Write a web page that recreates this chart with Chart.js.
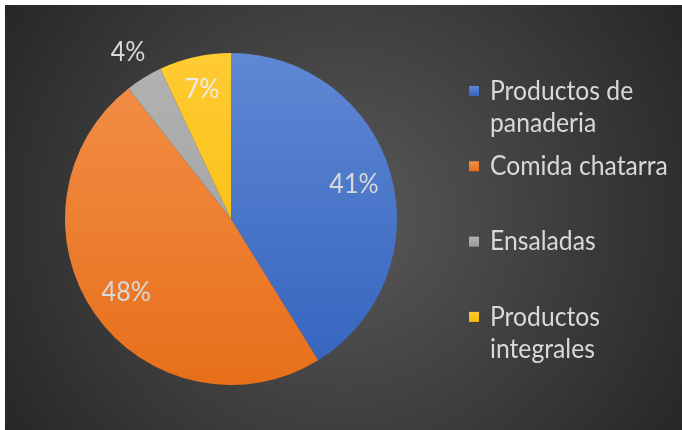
<!DOCTYPE html>
<html>
<head>
<meta charset="utf-8">
<script src="https://cdn.jsdelivr.net/npm/chart.js@4/dist/chart.umd.min.js"></script>
<style>
	html, body { margin: 0; padding: 0; background: #ffffff; }
	#wrap { position: absolute; left: 5px; top: 5px; width: 677px; height: 425px; }
</style>
</head>
<body>
<div id="wrap"><canvas id="pie-chart"></canvas></div>
<script>
// Data.
var categories = ["Productos de panaderia", "Comida chatarra", "Ensaladas", "Productos integrales"];
var shares = [41.2, 48.2, 3.6, 7.0];
var sliceColors = [
	["#5F88D4", "#3463BE"],
	["#F3904A", "#E76F1A"],
	["#B2B2B2", "#9C9C9C"],
	["#FFCB33", "#F8BA00"]
];

var FONT = "Lato, 'Open Sans', sans-serif";
var TEXT = "#d9d9d9";

// Background: dark radial gradient.
var bgPlugin = {
	id: 'bg',
	beforeDraw: function (chart) {
		var ctx = chart.ctx, w = chart.width, h = chart.height;
		var g = ctx.createRadialGradient(w * 0.5, h * 0.5, 0, w * 0.5, h * 0.5, w * 0.6);
		g.addColorStop(0, "#595959");
		g.addColorStop(1, "#262626");
		ctx.save();
		ctx.fillStyle = g;
		ctx.fillRect(0, 0, w, h);
		ctx.restore();
	}
};

// Narrow text, a bit like Calibri.
function narrowText(ctx, txt, x, y, sx) {
	ctx.save();
	ctx.translate(x, y);
	ctx.scale(sx, 1);
	ctx.fillText(txt, 0, 0);
	ctx.restore();
}

// Percent labels on the slices.
var labelPlugin = {
	id: 'pctLabels',
	afterDatasetsDraw: function (chart) {
		var ctx = chart.ctx;
		var data = chart.data.datasets[0].data;
		var total = data.reduce(function (a, b) { return a + b; }, 0);
		ctx.save();
		ctx.font = "27px " + FONT;
		ctx.textAlign = "center";
		ctx.textBaseline = "middle";
		chart.getDatasetMeta(0).data.forEach(function (arc, i) {
			var p = data[i] / total;
			var mid = (arc.startAngle + arc.endAngle) / 2;
			var dist = p < 0.05 ? arc.outerRadius + 30 : arc.outerRadius * (p < 0.1 ? 0.8 : 0.77);
			var x = arc.x + Math.cos(mid) * dist;
			var y = arc.y + Math.sin(mid) * dist;
			ctx.fillStyle = p < 0.1 && p >= 0.05 ? "#ececec" : TEXT;
			narrowText(ctx, Math.round(p * 100) + "%", x, y, 0.93);
		});
		ctx.restore();
	}
};

// Legend on the right with wrapped labels.
var legendPlugin = {
	id: 'sideLegend',
	afterDraw: function (chart) {
		var ctx = chart.ctx;
		var sx = 0.915;
		var boxX = 464, textX = 485, maxW = 190, lineH = 32, top = 86, step = 75.3;
		ctx.save();
		ctx.font = "27px " + FONT;
		ctx.textBaseline = "middle";
		chart.data.labels.forEach(function (label, i) {
			var y = top + i * step;
			var bg = ctx.createLinearGradient(0, y - 5, 0, y + 5);
			bg.addColorStop(0, sliceColors[i][0]);
			bg.addColorStop(1, sliceColors[i][1]);
			ctx.fillStyle = bg;
			ctx.fillRect(boxX, y - 5, 10, 10);
			// wrap words
			var words = label.split(" "), lines = [], cur = "";
			words.forEach(function (w) {
				var t = cur ? cur + " " + w : w;
				if (ctx.measureText(t).width * sx > maxW && cur) { lines.push(cur); cur = w; } else { cur = t; }
			});
			lines.push(cur);
			ctx.fillStyle = TEXT;
			lines.forEach(function (ln, k) {
				narrowText(ctx, ln, textX, y + k * lineH, sx);
			});
		});
		ctx.restore();
	}
};

new Chart(document.getElementById("pie-chart"), {
	type: 'pie',
	data: {
		labels: categories,
		datasets: [{
			data: shares,
			borderWidth: 0,
			backgroundColor: function (c) {
				var chart = c.chart, area = chart.chartArea;
				if (!area) { return sliceColors[c.dataIndex][0]; }
				var g = chart.ctx.createLinearGradient(0, area.top, 0, area.bottom);
				g.addColorStop(0, sliceColors[c.dataIndex][0]);
				g.addColorStop(1, sliceColors[c.dataIndex][1]);
				return g;
			}
		}]
	},
	options: {
		responsive: true,
		maintainAspectRatio: false,
		animation: false,
		layout: { padding: { left: 60, right: 285, top: 48, bottom: 45 } },
		plugins: {
			legend: { display: false },
			tooltip: { enabled: false }
		}
	},
	plugins: [bgPlugin, labelPlugin, legendPlugin]
});
</script>
</body>
</html>
